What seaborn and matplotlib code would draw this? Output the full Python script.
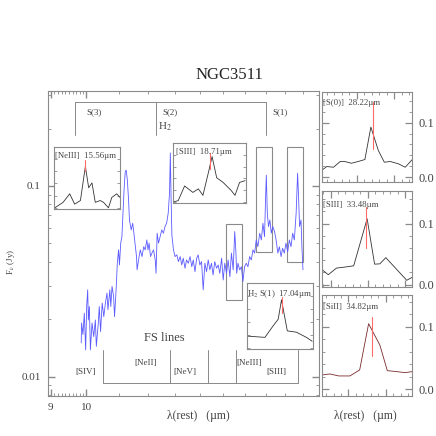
import matplotlib
matplotlib.use("Agg")
import matplotlib.pyplot as plt
import matplotlib.ticker as mticker
from matplotlib.patches import Rectangle
import seaborn as sns

# IRS spectrum of NGC3511 (rest wavelength in micron, flux in Jy)
wave = [9.85, 9.86, 9.90, 9.94, 9.98, 10.01, 10.04, 10.06, 10.09, 10.12, 10.17, 10.22, 10.27, 10.30,
        10.36, 10.39, 10.43, 10.48, 10.53, 10.58, 10.63, 10.66, 10.72, 10.75, 10.79, 10.84, 10.87,
        10.92, 10.96, 11.00, 11.03, 11.07, 11.11, 11.15, 11.18, 11.22, 11.25, 11.29, 11.33, 11.36,
        11.42, 11.47, 11.51, 11.56, 11.60, 11.62, 11.67, 11.73, 11.79, 11.85, 11.90, 11.96, 12.00,
        12.04, 12.09, 12.14, 12.20, 12.26, 12.29, 12.33, 12.38, 12.44, 12.50, 12.56, 12.62, 12.68,
        12.74, 12.79, 12.82, 12.85, 12.88, 12.94, 13.00, 13.07, 13.13, 13.20, 13.26, 13.32, 13.39,
        13.45, 13.52, 13.59, 13.66, 13.72, 13.79, 13.86, 13.92, 13.99, 14.06, 14.13, 14.20, 14.27,
        14.34, 14.41, 14.48, 14.55, 14.62, 14.70, 14.77, 14.84, 14.92, 14.99, 15.06, 15.14, 15.21,
        15.29, 15.36, 15.44, 15.51, 15.56, 15.60, 15.66, 15.74, 15.82, 15.89, 15.97, 16.05, 16.13,
        16.21, 16.29, 16.37, 16.45, 16.53, 16.61, 16.70, 16.78, 16.86, 16.94, 16.99, 17.03, 17.08,
        17.14, 17.21, 17.28, 17.36, 17.45, 17.53, 17.62, 17.70, 17.79, 17.87, 17.96, 18.05, 18.14,
        18.23, 18.32, 18.41, 18.50, 18.60, 18.68, 18.74, 18.79, 18.87, 18.92, 18.98]
flux = [0.0150, 0.0191, 0.0166, 0.0215, 0.0138, 0.0233, 0.0285, 0.0198, 0.0233, 0.0138, 0.0191,
        0.0162, 0.0198, 0.0144, 0.0191, 0.0233, 0.0172, 0.0243, 0.0206, 0.0243, 0.0274, 0.0224,
        0.0285, 0.0233, 0.0297, 0.0263, 0.0206, 0.0285, 0.0393, 0.0462, 0.0385, 0.0501, 0.0542,
        0.0748, 0.0953, 0.119, 0.121, 0.1075, 0.0845, 0.0663, 0.0588, 0.0637, 0.0565, 0.0480,
        0.0426, 0.0363, 0.0409, 0.0462, 0.0426, 0.0480, 0.0462, 0.0521, 0.0462, 0.0501, 0.0426,
        0.0444, 0.0462, 0.0409, 0.0348, 0.0565, 0.0501, 0.0542, 0.0588, 0.0565, 0.0612, 0.0637,
        0.0719, 0.0916, 0.149, 0.085, 0.055, 0.0462, 0.0426, 0.0435, 0.0401, 0.0426, 0.0385,
        0.0418, 0.0370, 0.0409, 0.0393, 0.0426, 0.0377, 0.0409, 0.0355, 0.0418, 0.0435, 0.0385,
        0.0401, 0.0285, 0.0393, 0.0355, 0.0409, 0.0363, 0.0393, 0.0341, 0.0401, 0.0370, 0.0385,
        0.0348, 0.0418, 0.0321, 0.0393, 0.0348, 0.0409, 0.0334, 0.0444, 0.0363, 0.0576, 0.0462,
        0.0348, 0.0393, 0.0363, 0.0377, 0.0315, 0.0377, 0.0393, 0.0377, 0.0426, 0.0409, 0.0462,
        0.0444, 0.0521, 0.0480, 0.0565, 0.0521, 0.0637, 0.0542, 0.0845, 0.114, 0.0719, 0.0612,
        0.0663, 0.0565, 0.0612, 0.0576, 0.0521, 0.0444, 0.0480, 0.0426, 0.0471, 0.0444, 0.0501,
        0.0452, 0.0521, 0.0480, 0.0565, 0.0521, 0.0719, 0.1166, 0.0845, 0.0612, 0.0663, 0.0480,
        0.0363]

# line identifications
h2_lines = [9.66, 12.28, 17.03]
h2_labels = ["S(3)", "S(2)", "S(1)"]
fs_lines = [10.51, 12.81, 14.32, 15.56, 18.71]
fs_labels = ["[SIV]", "[NeII]", "[NeV]", "[NeIII]", "[SIII]"]

# zoom boxes on the spectrum
box_wave = [(15.13, 15.83), (16.54, 17.34), (18.12, 19.00)]
box_flux = [(0.0252, 0.0632), (0.0451, 0.160), (0.0400, 0.160)]

# insets (normalised flux)
neiii_wave = [15.19, 15.29, 15.37, 15.43, 15.50, 15.56, 15.60, 15.64, 15.68, 15.74, 15.78, 15.84,
              15.88, 15.94, 15.98]
neiii_flux = [0.0, 0.09, 0.23, 0.06, 0.12, 0.68, 0.33, 0.41, 0.09, 0.12, 0.09, 0.0, 0.17, 0.23, 0.17]
siii18_wave = [18.31, 18.36, 18.43, 18.52, 18.58, 18.63, 18.69, 18.73, 18.78, 18.85, 18.94, 18.98,
               19.03, 19.09]
siii18_flux = [0.0, 0.02, 0.27, 0.16, 0.22, 0.11, 0.50, 0.77, 0.41, 0.33, 0.19, 0.11, 0.33, 0.36]
h2s1_wave = [16.62, 16.84, 16.94, 17.00, 17.04, 17.11, 17.22, 17.34, 17.41]
h2s1_flux = [0.18, 0.16, 0.34, 0.44, 0.74, 0.26, 0.24, 0.16, 0.10]

# long wavelength lines (right column)
s0_wave = [27.54, 27.60, 27.69, 27.78, 27.84, 27.93, 28.02, 28.11, 28.19, 28.29, 28.37, 28.45,
           28.56, 28.65, 28.74]
s0_flux = [0.0136, 0.0197, 0.0184, 0.0289, 0.0289, 0.0257, 0.0289, 0.0325, 0.0919, 0.049, 0.0276,
           0.0289, 0.0246, 0.0184, 0.032]
siii33_wave = [32.89, 32.97, 33.08, 33.19, 33.31, 33.49, 33.59, 33.66, 33.74, 34.02, 34.09]
siii33_flux = [0.0243, 0.0162, 0.0271, 0.0287, 0.0308, 0.108, 0.0335, 0.034, 0.0442, 0.007, 0.0118]
siii34_wave = [34.15, 34.25, 34.37, 34.52, 34.65, 34.77, 34.85, 34.92, 35.02, 35.15, 35.26, 35.35]
siii34_flux = [0.0228, 0.0244, 0.0212, 0.0212, 0.0308, 0.105, 0.0866, 0.0708, 0.0297, 0.0281,
               0.0265, 0.0281]

GRAY = "#8a8a8a"
BLUE = "#5a5aff"
RED = "#ff6a6a"
TXT = "#444444"

sns.set_style("ticks")
plt.rcParams['font.family'] = ['Liberation Serif', 'DejaVu Serif']
plt.rcParams['mathtext.fontset'] = 'stix'

fig = plt.figure(figsize=(4.36, 4.36), dpi=100)


def frame(ax):
    for s in ax.spines.values():
        s.set_color(GRAY)
        s.set_linewidth(0.8)
    ax.tick_params(which="both", direction="in", colors=GRAY, top=True, right=True,
                   labelcolor=TXT)


# main spectrum
ax = fig.add_axes([0.1094, 0.0917, 0.6222, 0.7002])
sns.lineplot(x=wave, y=flux, ax=ax, color=BLUE, lw=0.6, estimator=None, sort=False)
ax.set_xscale("log")
ax.set_yscale("log")
ax.set_xlim(8.92, 19.9)
ax.set_ylim(0.0079, 0.316)
frame(ax)
ax.xaxis.set_major_locator(mticker.FixedLocator([9, 10]))
ax.xaxis.set_major_formatter(mticker.FixedFormatter(["9", "10"]))
ax.xaxis.set_minor_locator(mticker.FixedLocator(
    [8.9 + 0.1 * i for i in range(11)] + list(range(11, 20))))
ax.xaxis.set_minor_formatter(mticker.NullFormatter())
ax.yaxis.set_major_locator(mticker.FixedLocator([0.01, 0.1]))
ax.yaxis.set_major_formatter(mticker.FixedFormatter(["0.01", "0.1"]))
ax.yaxis.set_minor_locator(mticker.LogLocator(subs=range(2, 10)))
ax.yaxis.set_minor_formatter(mticker.NullFormatter())
ax.tick_params(which="major", length=5, width=1.0, labelsize=8, pad=5)
ax.tick_params(which="minor", length=2.5, width=0.6)
ax.set_xlabel("")
ax.set_ylabel("")

tr = ax.get_xaxis_transform()
# H2 bracket
ax.plot([h2_lines[0], h2_lines[-1]], [0.962, 0.962], transform=tr, color=GRAY, lw=0.7)
for w, lab, dx in zip(h2_lines, h2_labels, [8.5, 5, 4.5]):
    ax.plot([w, w], [0.855, 0.962], transform=tr, color=GRAY, lw=0.7)
    ax.annotate(lab, (w, 0.93), xycoords=tr, xytext=(dx, 0), textcoords="offset points",
                ha="left", va="center", fontsize=6.5, color=TXT)
ax.annotate("H$_2$", (h2_lines[1], 0.881), xycoords=tr, xytext=(1.5, 0),
            textcoords="offset points", ha="left", va="center", fontsize=8, color=TXT)

# fine structure lines bracket
ax.plot([fs_lines[0], fs_lines[-1]], [0.0426, 0.0426], transform=tr, color=GRAY, lw=0.7)
fs_dx = [-5, -9.5, -8.5, 0.5, -8.5]
fs_ha = ["right", "right", "right", "left", "right"]
fs_y = [0.079, 0.109, 0.079, 0.108, 0.079]
for w, lab, dx, ha, yy in zip(fs_lines, fs_labels, fs_dx, fs_ha, fs_y):
    ax.plot([w, w], [0.0426, 0.151], transform=tr, color=GRAY, lw=0.7)
    ax.annotate(lab, (w, yy), xycoords=tr, xytext=(dx, 0), textcoords="offset points",
                ha=ha, va="center", fontsize=6.5, color=TXT)
ax.text(12.58, 0.191, "FS lines", transform=tr, ha="center", va="center", fontsize=9,
        color=TXT)

for (w0, w1), (f0, f1) in zip(box_wave, box_flux):
    ax.add_patch(Rectangle((w0, f0), w1 - w0, f1 - f0, fill=False, ec=GRAY, lw=0.8))

fig.text(0.527, 0.828, "NGC3511", ha="center", va="center", fontsize=12)
fig.text(0.025, 0.399, r"F$_\nu$ (Jy)", rotation=90, ha="center", va="center",
         fontsize=6.5, color=TXT)
fig.text(0.454, 0.046, "λ(rest)   (µm)", ha="center", va="center", fontsize=8.5, color=TXT)
fig.text(0.838, 0.046, "λ(rest)   (µm)", ha="center", va="center", fontsize=8.5, color=TXT)


def inset(rect, x, y, xlim, ylim, line, red_y, label, tx, ty, color="#333333"):
    a = fig.add_axes(rect)
    sns.lineplot(x=x, y=y, ax=a, color=color, lw=0.6, estimator=None, sort=False)
    a.plot([line, line], red_y, color=RED, lw=0.8)
    a.set_xlim(*xlim)
    a.set_ylim(*ylim)
    a.set_xlabel("")
    a.set_ylabel("")
    a.text(tx, ty, label, transform=a.transAxes, ha="left", va="center", fontsize=6.3,
           color=TXT)
    for s in a.spines.values():
        s.set_color(GRAY)
        s.set_linewidth(0.8)
    return a


for rect, x, y, xl, line, ry, lab, tx, ty in [
        ([0.1239, 0.5206, 0.1514, 0.1422], neiii_wave, neiii_flux, (15.18, 15.98), 15.56,
         (0.60, 0.79), "[NeIII]  15.56µm", 0.02, 0.85),
        ([0.3961, 0.5344, 0.1681, 0.1376], siii18_wave, siii18_flux, (18.30, 19.10), 18.71,
         (0.55, 0.83), "[SIII]  18.71µm", 0.05, 0.85),
        ([0.5658, 0.1995, 0.1521, 0.1514], h2s1_wave, h2s1_flux, (16.62, 17.42), 17.04,
         (0.54, 0.79), "H$_2$ S(1)  17.04µm", 0.0, 0.83)]:
    a = inset(rect, x, y, xl, (-0.02, 1.0), line, ry, lab, tx, ty)
    a.set_xticks([])
    a.yaxis.set_major_locator(mticker.MultipleLocator(0.2))
    a.yaxis.set_major_formatter(mticker.NullFormatter())
    a.tick_params(axis="y", direction="in", left=True, right=True, length=2.5, width=0.6,
                  colors=GRAY)

# right column panels
for rect, x, y, xl, yl, line, ry, lab, ty, col in [
        ([0.7392, 0.5833, 0.2057, 0.2057], s0_wave, s0_flux, (27.54, 28.74), (-0.008, 0.156),
         28.22, (0.052, 0.138), "[S(0)]  28.22µm", 0.874, "#333333"),
        ([0.7392, 0.3417, 0.2057, 0.2209], siii33_wave, siii33_flux, (32.89, 34.09),
         (-0.004, 0.154), 33.48, (0.0595, 0.127), "[SIII]  33.48µm", 0.85, "#333333"),
        ([0.7392, 0.0917, 0.2057, 0.2317], siii34_wave, siii34_flux, (34.15, 35.35),
         (-0.011, 0.151), 34.82, (0.053, 0.116), "[SiII]  34.82µm", 0.884, "#7a2a2a")]:
    a = inset(rect, x, y, xl, yl, line, ry, lab, 0.01, ty, color=col)
    frame(a)
    a.xaxis.set_major_locator(mticker.MultipleLocator(0.5))
    a.xaxis.set_minor_locator(mticker.MultipleLocator(0.1))
    a.xaxis.set_major_formatter(mticker.NullFormatter())
    a.yaxis.set_major_locator(mticker.FixedLocator([0.0, 0.1]))
    a.yaxis.set_major_formatter(mticker.FixedFormatter(["0.0", "0.1"]))
    a.yaxis.set_minor_locator(mticker.MultipleLocator(0.02))
    a.tick_params(axis="y", labelleft=False, labelright=True)
    a.tick_params(which="major", length=5, width=0.9, labelsize=9, pad=5)
    a.tick_params(which="minor", length=2.5, width=0.6)

fig.savefig("out.png", dpi=100)
